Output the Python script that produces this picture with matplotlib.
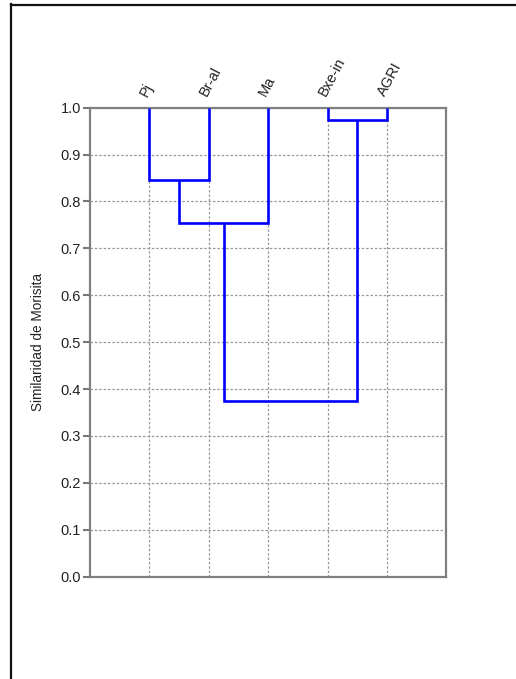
import matplotlib
matplotlib.use("Agg")
import matplotlib.pyplot as plt
from matplotlib.lines import Line2D

plt.rcParams['font.family'] = ['Liberation Sans', 'DejaVu Sans']

# Data
leaves = ['Pj', 'Br-al', 'Ma', 'Bxe-in', 'AGRI']
# merges: (child_a, child_b, similarity) ; indices >= len(leaves) refer to earlier merges
merge_a = [0, 5, 3, 6]
merge_b = [1, 2, 4, 7]
merge_sim = [0.845, 0.754, 0.974, 0.375]
yticks = [0.0, 0.1, 0.2, 0.3, 0.4, 0.5, 0.6, 0.7, 0.8, 0.9, 1.0]

fig = plt.figure(figsize=(5.16, 6.79), dpi=100)
ax = fig.add_axes([0.1744, 0.1507, 0.6909, 0.6907])

pos_x = [i + 1 for i in range(len(leaves))]
pos_y = [1.0] * len(leaves)
blue = '#0000FF'
for a, b, s in zip(merge_a, merge_b, merge_sim):
    xa, ya = pos_x[a], pos_y[a]
    xb, yb = pos_x[b], pos_y[b]
    ax.plot([xa, xa, xb, xb], [ya, s, s, yb], color=blue, lw=1.9,
            solid_joinstyle='miter', solid_capstyle='butt', zorder=3)
    pos_x.append((xa + xb) / 2)
    pos_y.append(s)

ax.set_xlim(0, len(leaves) + 1)
ax.set_ylim(0, 1.0)
ax.set_xticks(range(1, len(leaves) + 1))
ax.set_xticklabels([])
ax.tick_params(axis='x', length=0)
ax.set_yticks(yticks)
ax.set_yticklabels([f'{v:.1f}' for v in yticks], fontsize=10.5, color='#222222')
ax.tick_params(axis='y', direction='out', length=5, width=1.5, color='#777777', pad=1.5)
ax.grid(True, color='#999999', linestyle=(0, (2, 1.5)), linewidth=0.9, zorder=0)
for sp in ax.spines.values():
    sp.set_color('#808080')
    sp.set_linewidth(1.6)

for i, lab in enumerate(leaves):
    ax.annotate(lab, xy=(i + 1, 1.0), xycoords='data', xytext=(-1.5, 7.5),
                textcoords='offset points', rotation=62, ha='left', va='baseline',
                rotation_mode='anchor', fontsize=10.5, color='#222222')

ax.set_ylabel('Similaridad de Morisita', fontsize=9.8, color='#222222', labelpad=11)

# outer frame lines
fig.add_artist(Line2D([10.5 / 516, 10.5 / 516], [0, 1 - 4 / 679], transform=fig.transFigure,
                      color='#111111', lw=1.6))
fig.add_artist(Line2D([10.5 / 516, 1], [1 - 4.5 / 679, 1 - 4.5 / 679], transform=fig.transFigure,
                      color='#111111', lw=1.6))

fig.savefig('out.png', dpi=100)
